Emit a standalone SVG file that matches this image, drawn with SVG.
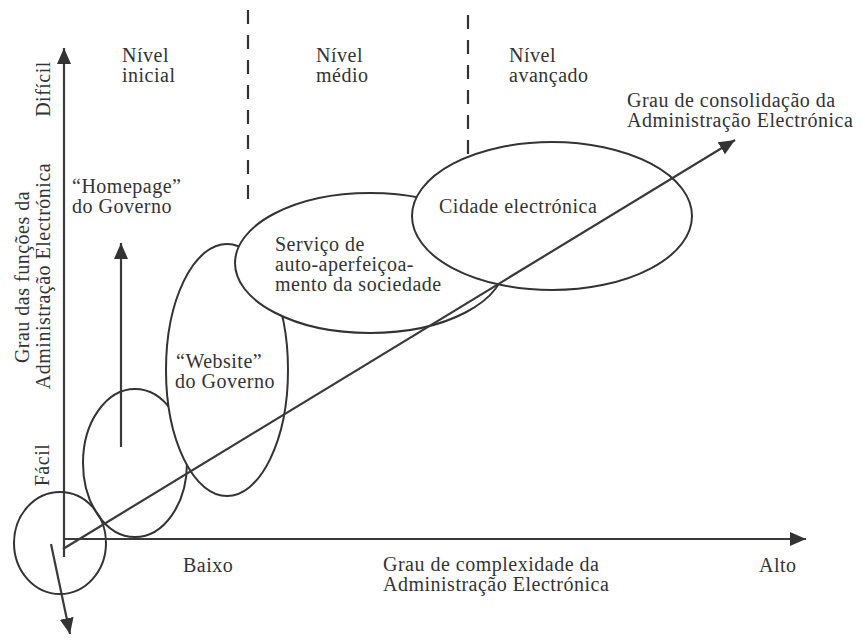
<svg xmlns="http://www.w3.org/2000/svg" width="865" height="642" viewBox="0 0 865 642">
<style>
  .t { font-family: "Liberation Serif", "Times New Roman", "DejaVu Serif", serif; font-size: 20px; letter-spacing: 0.5px; fill: #333; }
  .shape { fill: none; stroke: #333; stroke-width: 2; }
  .solid { fill: #ffffff; stroke: #333; stroke-width: 2; }
  .line { fill: none; stroke: #3a3a3a; stroke-width: 2.2; }
  .dash { fill: none; stroke: #333; stroke-width: 2.2; stroke-dasharray: 14 11; }
</style>
<defs>
  <marker id="arrow" markerUnits="userSpaceOnUse" markerWidth="16" markerHeight="14" refX="16" refY="7" orient="auto">
    <path d="M0,0 L16,7 L0,14 z" fill="#333"/>
  </marker>
</defs>
<rect width="865" height="642" fill="#ffffff"/>

<g id="origin">
  <ellipse class="shape" cx="60" cy="543" rx="46" ry="51"/>
</g>
<g id="homepage">
  <ellipse class="shape" cx="135" cy="463" rx="52" ry="74"/>
  <text class="t" x="72" y="193">“Homepage”</text>
  <text class="t" x="72" y="213">do Governo</text>
</g>
<g id="website">
  <ellipse class="solid" cx="227" cy="370" rx="61" ry="126"/>
  <text class="t" x="176" y="368">“Website”</text>
  <text class="t" x="175" y="388">do Governo</text>
</g>
<g id="servico">
  <ellipse class="solid" cx="370" cy="263" rx="135" ry="70"/>
  <text class="t" x="275" y="251">Serviço de</text>
  <text class="t" x="275" y="271">auto-aperfeiçoa-</text>
  <text class="t" x="275" y="291">mento da sociedade</text>
</g>
<g id="cidade">
  <ellipse class="solid" cx="552" cy="216" rx="140" ry="74"/>
  <text class="t" x="439" y="213">Cidade electrónica</text>
</g>

<g id="connectors">
  <line class="line" x1="64" y1="557" x2="64" y2="48" marker-end="url(#arrow)"/>
  <line class="line" x1="64" y1="539" x2="806" y2="539" marker-end="url(#arrow)"/>
  <line class="line" x1="63" y1="549" x2="735" y2="140" marker-end="url(#arrow)"/>
  <line class="line" x1="121" y1="447" x2="121" y2="243" marker-end="url(#arrow)"/>
  <line class="line" x1="51" y1="544" x2="70" y2="634" marker-end="url(#arrow)"/>
  <line class="dash" x1="248" y1="10" x2="248" y2="202"/>
  <line class="dash" x1="468" y1="15" x2="468" y2="157"/>
</g>

<g id="levels">
  <text class="t" x="122" y="62">Nível</text>
  <text class="t" x="122" y="82">inicial</text>
  <text class="t" x="316" y="62">Nível</text>
  <text class="t" x="316" y="82">médio</text>
  <text class="t" x="509" y="62">Nível</text>
  <text class="t" x="509" y="82">avançado</text>
</g>

<g id="axis-labels">
  <text class="t" x="627" y="107">Grau de consolidação da</text>
  <text class="t" x="627" y="127">Administração Electrónica</text>
  <text class="t" x="183" y="572">Baixo</text>
  <text class="t" x="383" y="571">Grau de complexidade da</text>
  <text class="t" x="383" y="591">Administração Electrónica</text>
  <text class="t" x="759" y="572">Alto</text>
  <text class="t" transform="translate(29,277) rotate(-90)" text-anchor="middle">Grau das funções da</text>
  <text class="t" transform="translate(50,276) rotate(-90)" text-anchor="middle">Administração Electrónica</text>
  <text class="t" transform="translate(50,89) rotate(-90)" text-anchor="middle">Difícil</text>
  <text class="t" transform="translate(49,465) rotate(-90)" text-anchor="middle">Fácil</text>
</g>
</svg>
